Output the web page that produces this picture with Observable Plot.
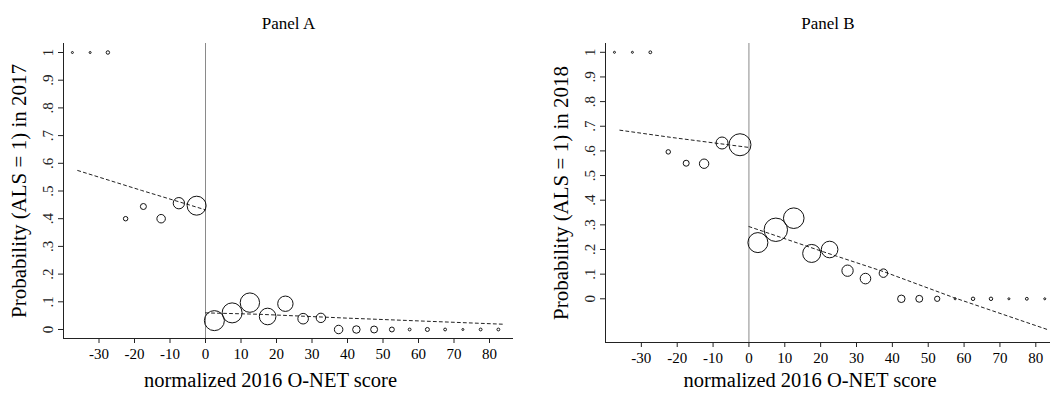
<!DOCTYPE html>
<html><head><meta charset="utf-8">
<script src="https://cdn.jsdelivr.net/npm/d3@7"></script>
<script src="https://cdn.jsdelivr.net/npm/@observablehq/plot@0.6"></script>
<style>
body{margin:0;background:#fff;}
#wrap{position:relative;width:1050px;height:401px;overflow:hidden;background:#fff;}
.panel{position:absolute;top:0;}
</style></head><body>
<div id="wrap"><div class="panel" id="pa" style="left:0"></div><div class="panel" id="pb" style="left:525px"></div></div>
<script>
// Bin centres of normalized 2016 O-NET score
const bins = [-37.5,-32.5,-27.5,-22.5,-17.5,-12.5,-7.5,-2.5,2.5,7.5,12.5,17.5,22.5,27.5,32.5,37.5,42.5,47.5,52.5,57.5,62.5,67.5,72.5,77.5,82.5];
// Panel A: share with ALS = 1 in 2017, and relative bin weights
const probA = [1,1,1,0.40,0.444,0.40,0.456,0.447,0.032,0.060,0.097,0.047,0.093,0.039,0.042,0,0,0,0,0,0,0,0,0,0];
const weightA = [1,1,3,5,9,18,32,90,100,100,94,69,59,28,22,18,14,12,6,2,4,2,1,2,2];
// Panel B: share with ALS = 1 in 2018
const probB = [1,1,1,0.596,0.55,0.548,0.632,0.625,0.228,0.28,0.327,0.184,0.2,0.114,0.082,0.104,0,0,0,0,0,0,0,0,0];
const weightB = [1,1,2,5,9,22,36,121,100,137,106,81,69,32,28,18,14,12,7,1,3,3,1,2,1];
// Fitted lines
const fitALeftX = [-36,-18,0];
const fitALeftY = [0.574,0.502,0.432];
const fitARightX = [0,15,40,84];
const fitARightY = [0.060,0.055,0.041,0.019];
const fitBLeftX = [-36,-21.8,0];
const fitBLeftY = [0.684,0.655,0.614];
const fitBRightX = [0,20.9,37.6,57.1,83.7];
const fitBRightY = [0.293,0.19,0.11,0.005,-0.127];
// Ticks
const xTicks = [-30,-20,-10,0,10,20,30,40,50,60,70,80];
const yTicks = [0,0.1,0.2,0.3,0.4,0.5,0.6,0.7,0.8,0.9,1];
const yTickLabels = ["0",".1",".2",".3",".4",".5",".6",".7",".8",".9","1"];

const font = "'Liberation Serif','Times New Roman',serif";
const zip = (xs, ys) => xs.map((x, i) => ({x, y: ys[i]}));

function panel({title, ylabel, prob, weight, fits, xDomain, yDomain, marginLeft, marginRight, marginBottom, xlabDy}) {
  const pts = bins.map((x, i) => ({x, y: prob[i], w: weight[i]}));
  return Plot.plot({
    width: 525, height: 401, marginTop: 43, marginBottom, marginLeft, marginRight,
    style: {fontFamily: font, background: "white", color: "black"},
    x: {domain: xDomain},
    y: {domain: yDomain},
    r: {type: "sqrt", domain: [0, 100], range: [0, 10]},
    marks: [
      Plot.ruleX([0], {stroke: "#8a8a8a", strokeWidth: 1}),
      Plot.ruleX(xDomain.slice(0, 1), {stroke: "#222", strokeWidth: 1}),
      Plot.ruleY(yDomain.slice(0, 1), {stroke: "#222", strokeWidth: 1}),
      ...fits.map(f => Plot.line(f, {x: "x", y: "y", stroke: "#222", strokeWidth: 1, strokeDasharray: "3,3"})),
      Plot.dot(pts, {x: "x", y: "y", r: "w", stroke: "#111", fill: "none", strokeWidth: 1}),
      Plot.axisX({ticks: xTicks, tickSize: 5, tickPadding: 5, fontSize: 15, label: null, tickFormat: d => String(d), stroke: "#222"}),
      Plot.axisY({ticks: yTicks, tickSize: 5, tickFormat: () => "", label: null, stroke: "#222"}),
      Plot.text(yTicks, {y: d => d, text: (d, i) => yTickLabels[i], frameAnchor: "left", textAnchor: "middle", rotate: -90, dx: -15, fontSize: 15, fill: "#222"}),
      Plot.text([title], {text: d => d, frameAnchor: "top", dy: -27, fontSize: 17}),
      Plot.text(["normalized 2016 O-NET score"], {text: d => d, frameAnchor: "bottom", dy: xlabDy, dx: -18, fontSize: 20.5}),
      Plot.text([ylabel], {text: d => d, frameAnchor: "left", textAnchor: "middle", rotate: -90, dx: -44, fontSize: 21})
    ]
  });
}

document.getElementById("pa").append(panel({
  title: "Panel A", ylabel: "Probability (ALS = 1) in 2017",
  prob: probA, weight: weightA,
  fits: [zip(fitALeftX, fitALeftY), zip(fitARightX, fitARightY)],
  xDomain: [-40, 86.76], yDomain: [-0.0325, 1.0325],
  marginLeft: 63, marginRight: 12, marginBottom: 63, xlabDy: 48
}));
document.getElementById("pb").append(panel({
  title: "Panel B", ylabel: "Probability (ALS = 1) in 2018",
  prob: probB, weight: weightB,
  fits: [zip(fitBLeftX, fitBLeftY), zip(fitBRightX, fitBRightY)],
  xDomain: [-40, 84.1], yDomain: [-0.1773, 1.0357],
  marginLeft: 80, marginRight: 0, marginBottom: 59, xlabDy: 44
}));
</script></body></html>
